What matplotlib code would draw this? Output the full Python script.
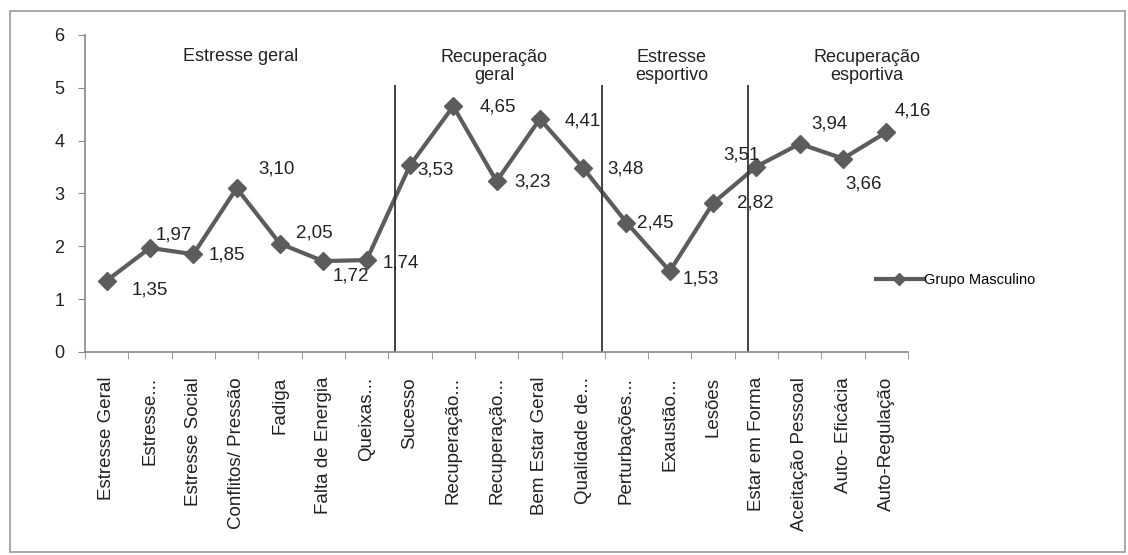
import matplotlib
matplotlib.use('Agg')
import matplotlib.pyplot as plt
from matplotlib.lines import Line2D
from matplotlib.patches import Rectangle
import numpy as np

plt.rcParams['font.family'] = ['Liberation Sans', 'DejaVu Sans']

categorias = ['Estresse Geral', 'Estresse...', 'Estresse Social', 'Conflitos/ Pressão',
              'Fadiga', 'Falta de Energia', 'Queixas...', 'Sucesso', 'Recuperação...',
              'Recuperação...', 'Bem Estar Geral', 'Qualidade de...', 'Perturbações...',
              'Exaustão...', 'Lesões', 'Estar em Forma', 'Aceitação Pessoal',
              'Auto- Eficácia', 'Auto-Regulação']
masculino = [1.35, 1.97, 1.85, 3.10, 2.05, 1.72, 1.74, 3.53, 4.65, 3.23, 4.41,
             3.48, 2.45, 1.53, 2.82, 3.51, 3.94, 3.66, 4.16]
grupos = ['Estresse geral', 'Recuperação\ngeral', 'Estresse\nesportivo', 'Recuperação\nesportiva']
grupo_x = [3.1, 8.95, 13.05, 17.55]
grupo_y = [5.6, 5.4, 5.4, 5.4]
divisores = [6.66, 11.44, 14.81]

# label offsets in pixels (dx, dy) from each marker, left-aligned text
offs = [(25, -9), (6, 13), (15, -1), (22, 19), (16, 11), (9, -15), (16, -3),
        (7, -5), (26, -1), (18, -1), (25, -2), (24, -1), (11, 0), (13, -8),
        (24, 0), (-33, 12), (12, 20), (2, -25), (8, 21)]

fig = plt.figure(figsize=(11.28, 5.55), dpi=100)
fig.add_artist(Rectangle((0.009, 0.005), 0.988, 0.976, transform=fig.transFigure,
                         fill=False, edgecolor='#9a9a9a', lw=1.2))
ax = fig.add_axes([0.0754, 0.3658, 0.7296, 0.5712])

x = np.arange(len(categorias))
ax.plot(x, masculino, color='#5c5c5c', lw=3, marker='D', markersize=9,
        markerfacecolor='#5c5c5c', markeredgecolor='#5c5c5c')

for i, v in enumerate(masculino):
    dx, dy = offs[i]
    ax.annotate(f'{v:.2f}'.replace('.', ','), (x[i], v), xytext=(dx * 0.72, dy * 0.72),
                textcoords='offset points', ha='left', va='center', fontsize=13.5,
                color='#222222')

for xd in divisores:
    ax.vlines(xd, 0, 5.05, color='#333333', lw=1.3)

for g, gx, gy in zip(grupos, grupo_x, grupo_y):
    ax.text(gx, gy, g, ha='center', va='center', fontsize=13, color='#222222',
            linespacing=1.05)

ax.set_xlim(-0.5, len(categorias) - 0.5)
ax.set_ylim(0, 6)
ax.set_yticks(range(7))
ax.set_xticks(x)
ax.set_xticklabels(categorias, rotation=90, fontsize=13.5, color='#222222')
ax.set_xticks(np.arange(-0.5, len(categorias)), minor=True)
ax.tick_params(axis='x', which='major', length=0, pad=18)
ax.tick_params(axis='x', which='minor', length=5, color='#888888')
ax.tick_params(axis='y', length=5, color='#888888', labelsize=13, pad=10,
               labelcolor='#222222')
for s in ['top', 'right']:
    ax.spines[s].set_visible(False)
for s in ['left', 'bottom']:
    ax.spines[s].set_color('#888888')
    ax.spines[s].set_linewidth(1.2)

proxy = Line2D([], [], color='#5c5c5c', lw=3, marker='D', markersize=6)
fig.legend([proxy], ['Grupo Masculino'], loc='center left',
           bbox_to_anchor=(0.765, 0.495), frameon=False, fontsize=10.5,
           handlelength=3.2, handletextpad=0.1)

fig.savefig('out.png', dpi=100)
